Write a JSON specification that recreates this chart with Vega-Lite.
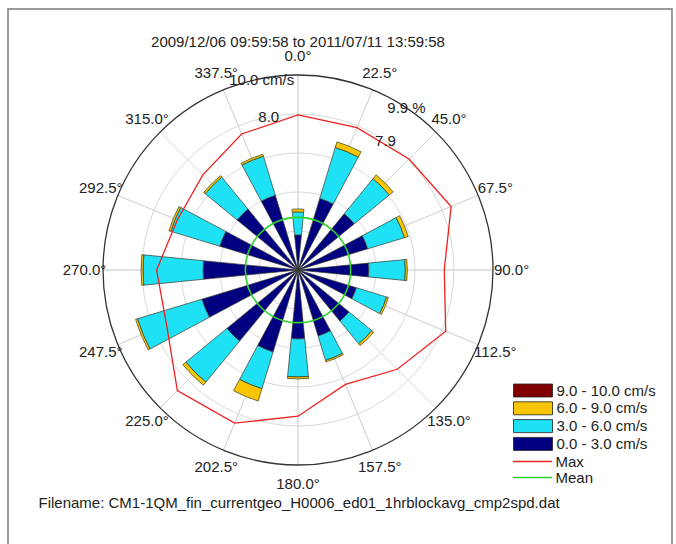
{
  "$schema": "https://vega.github.io/schema/vega-lite/v6.json",
  "width": 664,
  "height": 536,
  "autosize": "none",
  "padding": {"left": 8, "top": 9, "right": 4, "bottom": 0},
  "background": "white",
  "config": {
    "view": {"stroke": "#7a7a7a", "strokeWidth": 1.5},
    "font": "Liberation Sans",
    "text": {"font": "Liberation Sans", "fontSize": 15, "color": "#222222"}
  },
  "title": {
    "text": "2009/12/06 09:59:58 to 2011/07/11 13:59:58",
    "anchor": "middle",
    "frame": "group",
    "offset": 0,
    "dx": -42,
    "dy": 48,
    "baseline": "middle",
    "fontSize": 15,
    "fontWeight": "normal",
    "font": "Liberation Sans",
    "color": "#222222"
  },
  "datasets": {
    "bars": [
      {"dir": 0, "cls": "0.0 - 3.0 cm/s", "pct": 1.78}, {"dir": 0, "cls": "3.0 - 6.0 cm/s", "pct": 1.17}, {"dir": 0, "cls": "6.0 - 9.0 cm/s", "pct": 0.15},
      {"dir": 22.5, "cls": "0.0 - 3.0 cm/s", "pct": 3.8}, {"dir": 22.5, "cls": "3.0 - 6.0 cm/s", "pct": 2.7}, {"dir": 22.5, "cls": "6.0 - 9.0 cm/s", "pct": 0.3},
      {"dir": 45, "cls": "0.0 - 3.0 cm/s", "pct": 3.7}, {"dir": 45, "cls": "3.0 - 6.0 cm/s", "pct": 2.3}, {"dir": 45, "cls": "6.0 - 9.0 cm/s", "pct": 0.25},
      {"dir": 67.5, "cls": "0.0 - 3.0 cm/s", "pct": 3.7}, {"dir": 67.5, "cls": "3.0 - 6.0 cm/s", "pct": 1.95}, {"dir": 67.5, "cls": "6.0 - 9.0 cm/s", "pct": 0.2},
      {"dir": 90, "cls": "0.0 - 3.0 cm/s", "pct": 3.6}, {"dir": 90, "cls": "3.0 - 6.0 cm/s", "pct": 1.85}, {"dir": 90, "cls": "6.0 - 9.0 cm/s", "pct": 0.1},
      {"dir": 112.5, "cls": "0.0 - 3.0 cm/s", "pct": 3.1}, {"dir": 112.5, "cls": "3.0 - 6.0 cm/s", "pct": 1.6}, {"dir": 112.5, "cls": "6.0 - 9.0 cm/s", "pct": 0.1},
      {"dir": 135, "cls": "0.0 - 3.0 cm/s", "pct": 3.35}, {"dir": 135, "cls": "3.0 - 6.0 cm/s", "pct": 1.5}, {"dir": 135, "cls": "6.0 - 9.0 cm/s", "pct": 0.12},
      {"dir": 157.5, "cls": "0.0 - 3.0 cm/s", "pct": 3.5}, {"dir": 157.5, "cls": "3.0 - 6.0 cm/s", "pct": 1.3}, {"dir": 157.5, "cls": "6.0 - 9.0 cm/s", "pct": 0.08},
      {"dir": 180, "cls": "0.0 - 3.0 cm/s", "pct": 3.5}, {"dir": 180, "cls": "3.0 - 6.0 cm/s", "pct": 1.93}, {"dir": 180, "cls": "6.0 - 9.0 cm/s", "pct": 0.1},
      {"dir": 202.5, "cls": "0.0 - 3.0 cm/s", "pct": 4.35}, {"dir": 202.5, "cls": "3.0 - 6.0 cm/s", "pct": 1.95}, {"dir": 202.5, "cls": "6.0 - 9.0 cm/s", "pct": 0.65},
      {"dir": 225, "cls": "0.0 - 3.0 cm/s", "pct": 4.67}, {"dir": 225, "cls": "3.0 - 6.0 cm/s", "pct": 2.7}, {"dir": 225, "cls": "6.0 - 9.0 cm/s", "pct": 0.2},
      {"dir": 247.5, "cls": "0.0 - 3.0 cm/s", "pct": 5.1}, {"dir": 247.5, "cls": "3.0 - 6.0 cm/s", "pct": 3.42}, {"dir": 247.5, "cls": "6.0 - 9.0 cm/s", "pct": 0.1},
      {"dir": 270, "cls": "0.0 - 3.0 cm/s", "pct": 4.82}, {"dir": 270, "cls": "3.0 - 6.0 cm/s", "pct": 3.05}, {"dir": 270, "cls": "6.0 - 9.0 cm/s", "pct": 0.1},
      {"dir": 292.5, "cls": "0.0 - 3.0 cm/s", "pct": 4.15}, {"dir": 292.5, "cls": "3.0 - 6.0 cm/s", "pct": 2.6}, {"dir": 292.5, "cls": "6.0 - 9.0 cm/s", "pct": 0.1},
      {"dir": 315, "cls": "0.0 - 3.0 cm/s", "pct": 4.0}, {"dir": 315, "cls": "3.0 - 6.0 cm/s", "pct": 2.1}, {"dir": 315, "cls": "6.0 - 9.0 cm/s", "pct": 0.1},
      {"dir": 337.5, "cls": "0.0 - 3.0 cm/s", "pct": 3.96}, {"dir": 337.5, "cls": "3.0 - 6.0 cm/s", "pct": 2.08}, {"dir": 337.5, "cls": "6.0 - 9.0 cm/s", "pct": 0.1}
    ],
    "dirs": [
      {"dir": 0, "label": "0.0°"}, {"dir": 22.5, "label": "22.5°"}, {"dir": 45, "label": "45.0°"}, {"dir": 67.5, "label": "67.5°"},
      {"dir": 90, "label": "90.0°"}, {"dir": 112.5, "label": "112.5°"}, {"dir": 135, "label": "135.0°"}, {"dir": 157.5, "label": "157.5°"},
      {"dir": 180, "label": "180.0°"}, {"dir": 202.5, "label": "202.5°"}, {"dir": 225, "label": "225.0°"}, {"dir": 247.5, "label": "247.5°"},
      {"dir": 270, "label": "270.0°"}, {"dir": 292.5, "label": "292.5°"}, {"dir": 315, "label": "315.0°"}, {"dir": 337.5, "label": "337.5°"}
    ],
    "maxv": [
      {"dir": 0, "max": 7.95}, {"dir": 22.5, "max": 7.9}, {"dir": 45, "max": 8.05}, {"dir": 67.5, "max": 8.5},
      {"dir": 90, "max": 7.5}, {"dir": 112.5, "max": 8.2}, {"dir": 135, "max": 7.2}, {"dir": 157.5, "max": 6.35},
      {"dir": 180, "max": 7.5}, {"dir": 202.5, "max": 8.5}, {"dir": 225, "max": 8.75}, {"dir": 247.5, "max": 7.3},
      {"dir": 270, "max": 7.25}, {"dir": 292.5, "max": 6.7}, {"dir": 315, "max": 6.9}, {"dir": 337.5, "max": 7.55}
    ],
    "rings": [{"r": 2}, {"r": 4}, {"r": 6}, {"r": 8}],
    "outer": [{"r": 10}],
    "mean": [{"series": "Mean", "speed": 2.7}],
    "slabels": [{"label": "8.0", "ang": 349.2, "r": 8}, {"label": "10.0 cm/s", "ang": 349.2, "r": 9.92}],
    "plabels": [{"label": "7.9", "ang": 34.2, "r": 7.9}, {"label": "9.9 %", "ang": 33.8, "r": 9.9}]
  },
  "resolve": {"scale": {"radius": "independent"}},
  "layer": [
    {
      "data": {"name": "dirs"},
      "mark": {"type": "arc", "filled": false, "stroke": "#d8d8d8", "strokeWidth": 1},
      "encoding": {
        "x": {"datum": 0, "type": "quantitative", "scale": {"domain": [-14.872, 19.179], "nice": false, "zero": false}, "axis": {"title": "Filename: CM1-1QM_fin_currentgeo_H0006_ed01_1hrblockavg_cmp2spd.dat", "orient": "bottom", "labels": false, "ticks": false, "domain": false, "grid": false, "titleAnchor": "start", "titleAlign": "left", "titleBaseline": "middle", "titleX": 30, "titleY": -43, "titleFontSize": 15, "titleFontWeight": "normal", "titleFont": "Liberation Sans", "titleColor": "#222222"}},
        "y": {"datum": 0, "type": "quantitative", "scale": {"domain": [-14.103, 13.385], "nice": false, "zero": false}, "axis": null},
        "theta": {"field": "dir", "type": "quantitative", "stack": null, "scale": {"type": "linear", "domain": [0, 360], "range": [0, 6.283185307179586], "zero": false, "nice": false}},
        "theta2": {"field": "dir"},
        "radius": {"datum": 10, "type": "quantitative", "scale": {"type": "linear", "domain": [0, 10], "range": [0, 195], "nice": false, "zero": true}},
        "radius2": {"datum": 0}
      }
    },
    {
      "data": {"name": "rings"},
      "mark": {"type": "arc", "filled": false, "stroke": "#d8d8d8", "strokeWidth": 1},
      "encoding": {
        "x": {"datum": 0, "type": "quantitative", "scale": {"domain": [-14.872, 19.179], "nice": false, "zero": false}, "axis": {"title": "Filename: CM1-1QM_fin_currentgeo_H0006_ed01_1hrblockavg_cmp2spd.dat", "orient": "bottom", "labels": false, "ticks": false, "domain": false, "grid": false, "titleAnchor": "start", "titleAlign": "left", "titleBaseline": "middle", "titleX": 30, "titleY": -43, "titleFontSize": 15, "titleFontWeight": "normal", "titleFont": "Liberation Sans", "titleColor": "#222222"}},
        "y": {"datum": 0, "type": "quantitative", "scale": {"domain": [-14.103, 13.385], "nice": false, "zero": false}, "axis": null},
        "theta": {"datum": 0, "type": "quantitative", "scale": {"type": "linear", "domain": [0, 360], "range": [0, 6.283185307179586], "zero": false, "nice": false}},
        "theta2": {"datum": 360},
        "radius": {"field": "r", "type": "quantitative", "stack": null, "scale": {"type": "linear", "domain": [0, 10], "range": [0, 195], "nice": false, "zero": true}}
      }
    },
    {
      "data": {"name": "bars"},
      "transform": [
        {"stack": "pct", "groupby": ["dir"], "sort": [{"field": "cls", "order": "ascending"}], "as": ["r0", "r1"]},
        {"calculate": "datum.dir - 5.6", "as": "t0"},
        {"calculate": "datum.dir + 5.6", "as": "t1"}
      ],
      "mark": {"type": "arc", "stroke": "#3a3a2a", "strokeWidth": 0.7},
      "encoding": {
        "x": {"datum": 0, "type": "quantitative", "scale": {"domain": [-14.872, 19.179], "nice": false, "zero": false}, "axis": {"title": "Filename: CM1-1QM_fin_currentgeo_H0006_ed01_1hrblockavg_cmp2spd.dat", "orient": "bottom", "labels": false, "ticks": false, "domain": false, "grid": false, "titleAnchor": "start", "titleAlign": "left", "titleBaseline": "middle", "titleX": 30, "titleY": -43, "titleFontSize": 15, "titleFontWeight": "normal", "titleFont": "Liberation Sans", "titleColor": "#222222"}},
        "y": {"datum": 0, "type": "quantitative", "scale": {"domain": [-14.103, 13.385], "nice": false, "zero": false}, "axis": null},
        "theta": {"field": "t0", "type": "quantitative", "stack": null, "scale": {"type": "linear", "domain": [0, 360], "range": [0, 6.283185307179586], "zero": false, "nice": false}},
        "theta2": {"field": "t1"},
        "radius": {"field": "r1", "type": "quantitative", "stack": null, "scale": {"type": "linear", "domain": [0, 9.9], "range": [0, 195], "nice": false, "zero": true}},
        "radius2": {"field": "r0"},
        "fill": {
          "field": "cls", "type": "nominal",
          "scale": {"domain": ["9.0 - 10.0 cm/s", "6.0 - 9.0 cm/s", "3.0 - 6.0 cm/s", "0.0 - 3.0 cm/s"], "range": ["#800000", "#f7c600", "#1ee1f5", "#000080"]},
          "legend": {
            "orient": "none", "legendX": 517.5, "legendY": 374, "title": null, "padding": 0,
            "symbolType": "M-3,-1H3V1H-3Z", "symbolSize": 169, "symbolStrokeColor": "#222222", "symbolStrokeWidth": 0.8,
            "labelFontSize": 15, "labelFont": "Liberation Sans", "labelColor": "#222222", "labelOffset": 16, "rowPadding": 0.8, "labelLimit": 0
          }
        }
      }
    },
    {
      "data": {"name": "mean"},
      "mark": {"type": "arc", "filled": false, "strokeWidth": 1.6},
      "encoding": {
        "x": {"datum": 0, "type": "quantitative", "scale": {"domain": [-14.872, 19.179], "nice": false, "zero": false}, "axis": {"title": "Filename: CM1-1QM_fin_currentgeo_H0006_ed01_1hrblockavg_cmp2spd.dat", "orient": "bottom", "labels": false, "ticks": false, "domain": false, "grid": false, "titleAnchor": "start", "titleAlign": "left", "titleBaseline": "middle", "titleX": 30, "titleY": -43, "titleFontSize": 15, "titleFontWeight": "normal", "titleFont": "Liberation Sans", "titleColor": "#222222"}},
        "y": {"datum": 0, "type": "quantitative", "scale": {"domain": [-14.103, 13.385], "nice": false, "zero": false}, "axis": null},
        "theta": {"datum": 0, "type": "quantitative", "scale": {"type": "linear", "domain": [0, 360], "range": [0, 6.283185307179586], "zero": false, "nice": false}},
        "theta2": {"datum": 360},
        "radius": {"field": "speed", "type": "quantitative", "stack": null, "scale": {"type": "linear", "domain": [0, 10], "range": [0, 195], "nice": false, "zero": true}},
        "stroke": {
          "field": "series", "type": "nominal",
          "scale": {"domain": ["Max", "Mean"], "range": ["#ee2020", "#2bd42b"]},
          "legend": {
            "orient": "none", "legendX": 517, "legendY": 445, "title": null, "padding": 0,
            "symbolType": "M-3,0H3", "symbolSize": 169, "symbolStrokeWidth": 1.5,
            "labelFontSize": 15, "labelFont": "Liberation Sans", "labelColor": "#222222", "labelOffset": 15.5, "rowPadding": 0, "labelLimit": 0
          }
        }
      }
    },
    {
      "data": {"name": "maxv"},
      "transform": [
        {"calculate": "datum.max * sin(datum.dir * PI / 180)", "as": "x"},
        {"calculate": "datum.max * cos(datum.dir * PI / 180)", "as": "y"}
      ],
      "mark": {"type": "line", "interpolate": "linear-closed", "strokeWidth": 1.3},
      "encoding": {
        "x": {"field": "x", "type": "quantitative", "scale": {"domain": [-14.872, 19.179], "nice": false, "zero": false}, "axis": {"title": "Filename: CM1-1QM_fin_currentgeo_H0006_ed01_1hrblockavg_cmp2spd.dat", "orient": "bottom", "labels": false, "ticks": false, "domain": false, "grid": false, "titleAnchor": "start", "titleAlign": "left", "titleBaseline": "middle", "titleX": 30, "titleY": -43, "titleFontSize": 15, "titleFontWeight": "normal", "titleFont": "Liberation Sans", "titleColor": "#222222"}},
        "y": {"field": "y", "type": "quantitative", "scale": {"domain": [-14.103, 13.385], "nice": false, "zero": false}, "axis": null},
        "order": {"field": "dir", "type": "quantitative"},
        "stroke": {"datum": "Max", "type": "nominal"}
      }
    },
    {
      "data": {"name": "outer"},
      "mark": {"type": "arc", "filled": false, "stroke": "#333333", "strokeWidth": 1.3},
      "encoding": {
        "x": {"datum": 0, "type": "quantitative", "scale": {"domain": [-14.872, 19.179], "nice": false, "zero": false}, "axis": {"title": "Filename: CM1-1QM_fin_currentgeo_H0006_ed01_1hrblockavg_cmp2spd.dat", "orient": "bottom", "labels": false, "ticks": false, "domain": false, "grid": false, "titleAnchor": "start", "titleAlign": "left", "titleBaseline": "middle", "titleX": 30, "titleY": -43, "titleFontSize": 15, "titleFontWeight": "normal", "titleFont": "Liberation Sans", "titleColor": "#222222"}},
        "y": {"datum": 0, "type": "quantitative", "scale": {"domain": [-14.103, 13.385], "nice": false, "zero": false}, "axis": null},
        "theta": {"datum": 0, "type": "quantitative", "scale": {"type": "linear", "domain": [0, 360], "range": [0, 6.283185307179586], "zero": false, "nice": false}},
        "theta2": {"datum": 360},
        "radius": {"field": "r", "type": "quantitative", "stack": null, "scale": {"type": "linear", "domain": [0, 10], "range": [0, 195], "nice": false, "zero": true}}
      }
    },
    {
      "data": {"name": "dirs"},
      "mark": {"type": "text", "align": "center", "baseline": "middle", "fontSize": 15, "font": "Liberation Sans", "color": "#222222"},
      "encoding": {
        "x": {"datum": 0, "type": "quantitative", "scale": {"domain": [-14.872, 19.179], "nice": false, "zero": false}, "axis": {"title": "Filename: CM1-1QM_fin_currentgeo_H0006_ed01_1hrblockavg_cmp2spd.dat", "orient": "bottom", "labels": false, "ticks": false, "domain": false, "grid": false, "titleAnchor": "start", "titleAlign": "left", "titleBaseline": "middle", "titleX": 30, "titleY": -43, "titleFontSize": 15, "titleFontWeight": "normal", "titleFont": "Liberation Sans", "titleColor": "#222222"}},
        "y": {"datum": 0, "type": "quantitative", "scale": {"domain": [-14.103, 13.385], "nice": false, "zero": false}, "axis": null},
        "theta": {"field": "dir", "type": "quantitative", "stack": null, "scale": {"type": "linear", "domain": [0, 360], "range": [0, 6.283185307179586], "zero": false, "nice": false}},
        "radius": {"datum": 10.95, "type": "quantitative", "scale": {"type": "linear", "domain": [0, 10], "range": [0, 195], "nice": false, "zero": true}},
        "text": {"field": "label", "type": "nominal"}
      }
    },
    {
      "data": {"name": "slabels"},
      "mark": {"type": "text", "align": "center", "baseline": "middle", "fontSize": 15, "font": "Liberation Sans", "color": "#222222"},
      "encoding": {
        "x": {"datum": 0, "type": "quantitative", "scale": {"domain": [-14.872, 19.179], "nice": false, "zero": false}, "axis": {"title": "Filename: CM1-1QM_fin_currentgeo_H0006_ed01_1hrblockavg_cmp2spd.dat", "orient": "bottom", "labels": false, "ticks": false, "domain": false, "grid": false, "titleAnchor": "start", "titleAlign": "left", "titleBaseline": "middle", "titleX": 30, "titleY": -43, "titleFontSize": 15, "titleFontWeight": "normal", "titleFont": "Liberation Sans", "titleColor": "#222222"}},
        "y": {"datum": 0, "type": "quantitative", "scale": {"domain": [-14.103, 13.385], "nice": false, "zero": false}, "axis": null},
        "theta": {"field": "ang", "type": "quantitative", "stack": null, "scale": {"type": "linear", "domain": [0, 360], "range": [0, 6.283185307179586], "zero": false, "nice": false}},
        "radius": {"field": "r", "type": "quantitative", "scale": {"type": "linear", "domain": [0, 10], "range": [0, 195], "nice": false, "zero": true}},
        "text": {"field": "label", "type": "nominal"}
      }
    },
    {
      "data": {"name": "plabels"},
      "mark": {"type": "text", "align": "center", "baseline": "middle", "fontSize": 15, "font": "Liberation Sans", "color": "#222222"},
      "encoding": {
        "x": {"datum": 0, "type": "quantitative", "scale": {"domain": [-14.872, 19.179], "nice": false, "zero": false}, "axis": {"title": "Filename: CM1-1QM_fin_currentgeo_H0006_ed01_1hrblockavg_cmp2spd.dat", "orient": "bottom", "labels": false, "ticks": false, "domain": false, "grid": false, "titleAnchor": "start", "titleAlign": "left", "titleBaseline": "middle", "titleX": 30, "titleY": -43, "titleFontSize": 15, "titleFontWeight": "normal", "titleFont": "Liberation Sans", "titleColor": "#222222"}},
        "y": {"datum": 0, "type": "quantitative", "scale": {"domain": [-14.103, 13.385], "nice": false, "zero": false}, "axis": null},
        "theta": {"field": "ang", "type": "quantitative", "stack": null, "scale": {"type": "linear", "domain": [0, 360], "range": [0, 6.283185307179586], "zero": false, "nice": false}},
        "radius": {"field": "r", "type": "quantitative", "scale": {"type": "linear", "domain": [0, 9.9], "range": [0, 195], "nice": false, "zero": true}},
        "text": {"field": "label", "type": "nominal"}
      }
    }
  ]
}
